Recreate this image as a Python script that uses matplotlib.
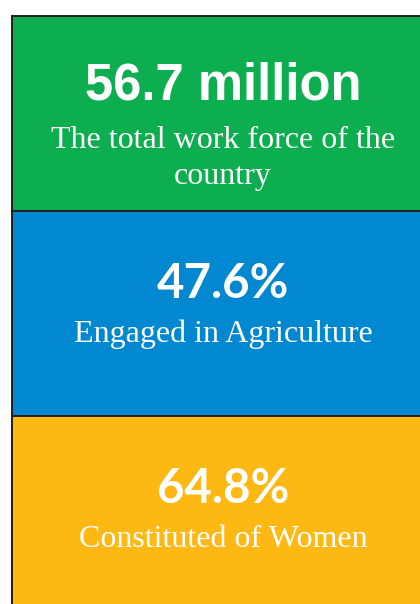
import matplotlib.pyplot as plt
from matplotlib.patches import Rectangle

# ---------------------------------------------------------------- data
headlines = ['56.7 million', '47.6%', '64.8%']
captions = [['The total work force of the', 'country'],
            ['Engaged in Agriculture'],
            ['Constituted of Women']]
box_colors = ['#0dae4f', '#0288d1', '#fdb814']

# ---------------------------------------------------------------- layout (pixels)
box_top = [16, 211, 416]
box_bottom = [211, 416, 610]
head_base = [100, 298, 503]
cap_base = [148, 342, 547]
head_fonts = [('Liberation Sans', 36.5), ('Lato', 34), ('Lato', 34)]
cx = 223

fig = plt.figure(figsize=(4.2, 6.04), dpi=100)
ax = fig.add_axes([0, 0, 1, 1])
ax.set_xlim(0, 420)
ax.set_ylim(604, 0)
ax.axis('off')

for i in range(3):
    ax.add_patch(Rectangle((12, box_top[i]), 430, box_bottom[i] - box_top[i],
                           facecolor=box_colors[i], edgecolor='#231f20', linewidth=1.4))
    fam, size = head_fonts[i]
    ax.text(cx, head_base[i], headlines[i], color='white', fontsize=size, family=fam,
            fontweight='bold', ha='center', va='baseline')
    for j, line in enumerate(captions[i]):
        ax.text(cx, cap_base[i] + 36 * j, line, color='white', fontsize=23,
                family='Liberation Serif', ha='center', va='baseline')

fig.savefig('out.png', dpi=100)
